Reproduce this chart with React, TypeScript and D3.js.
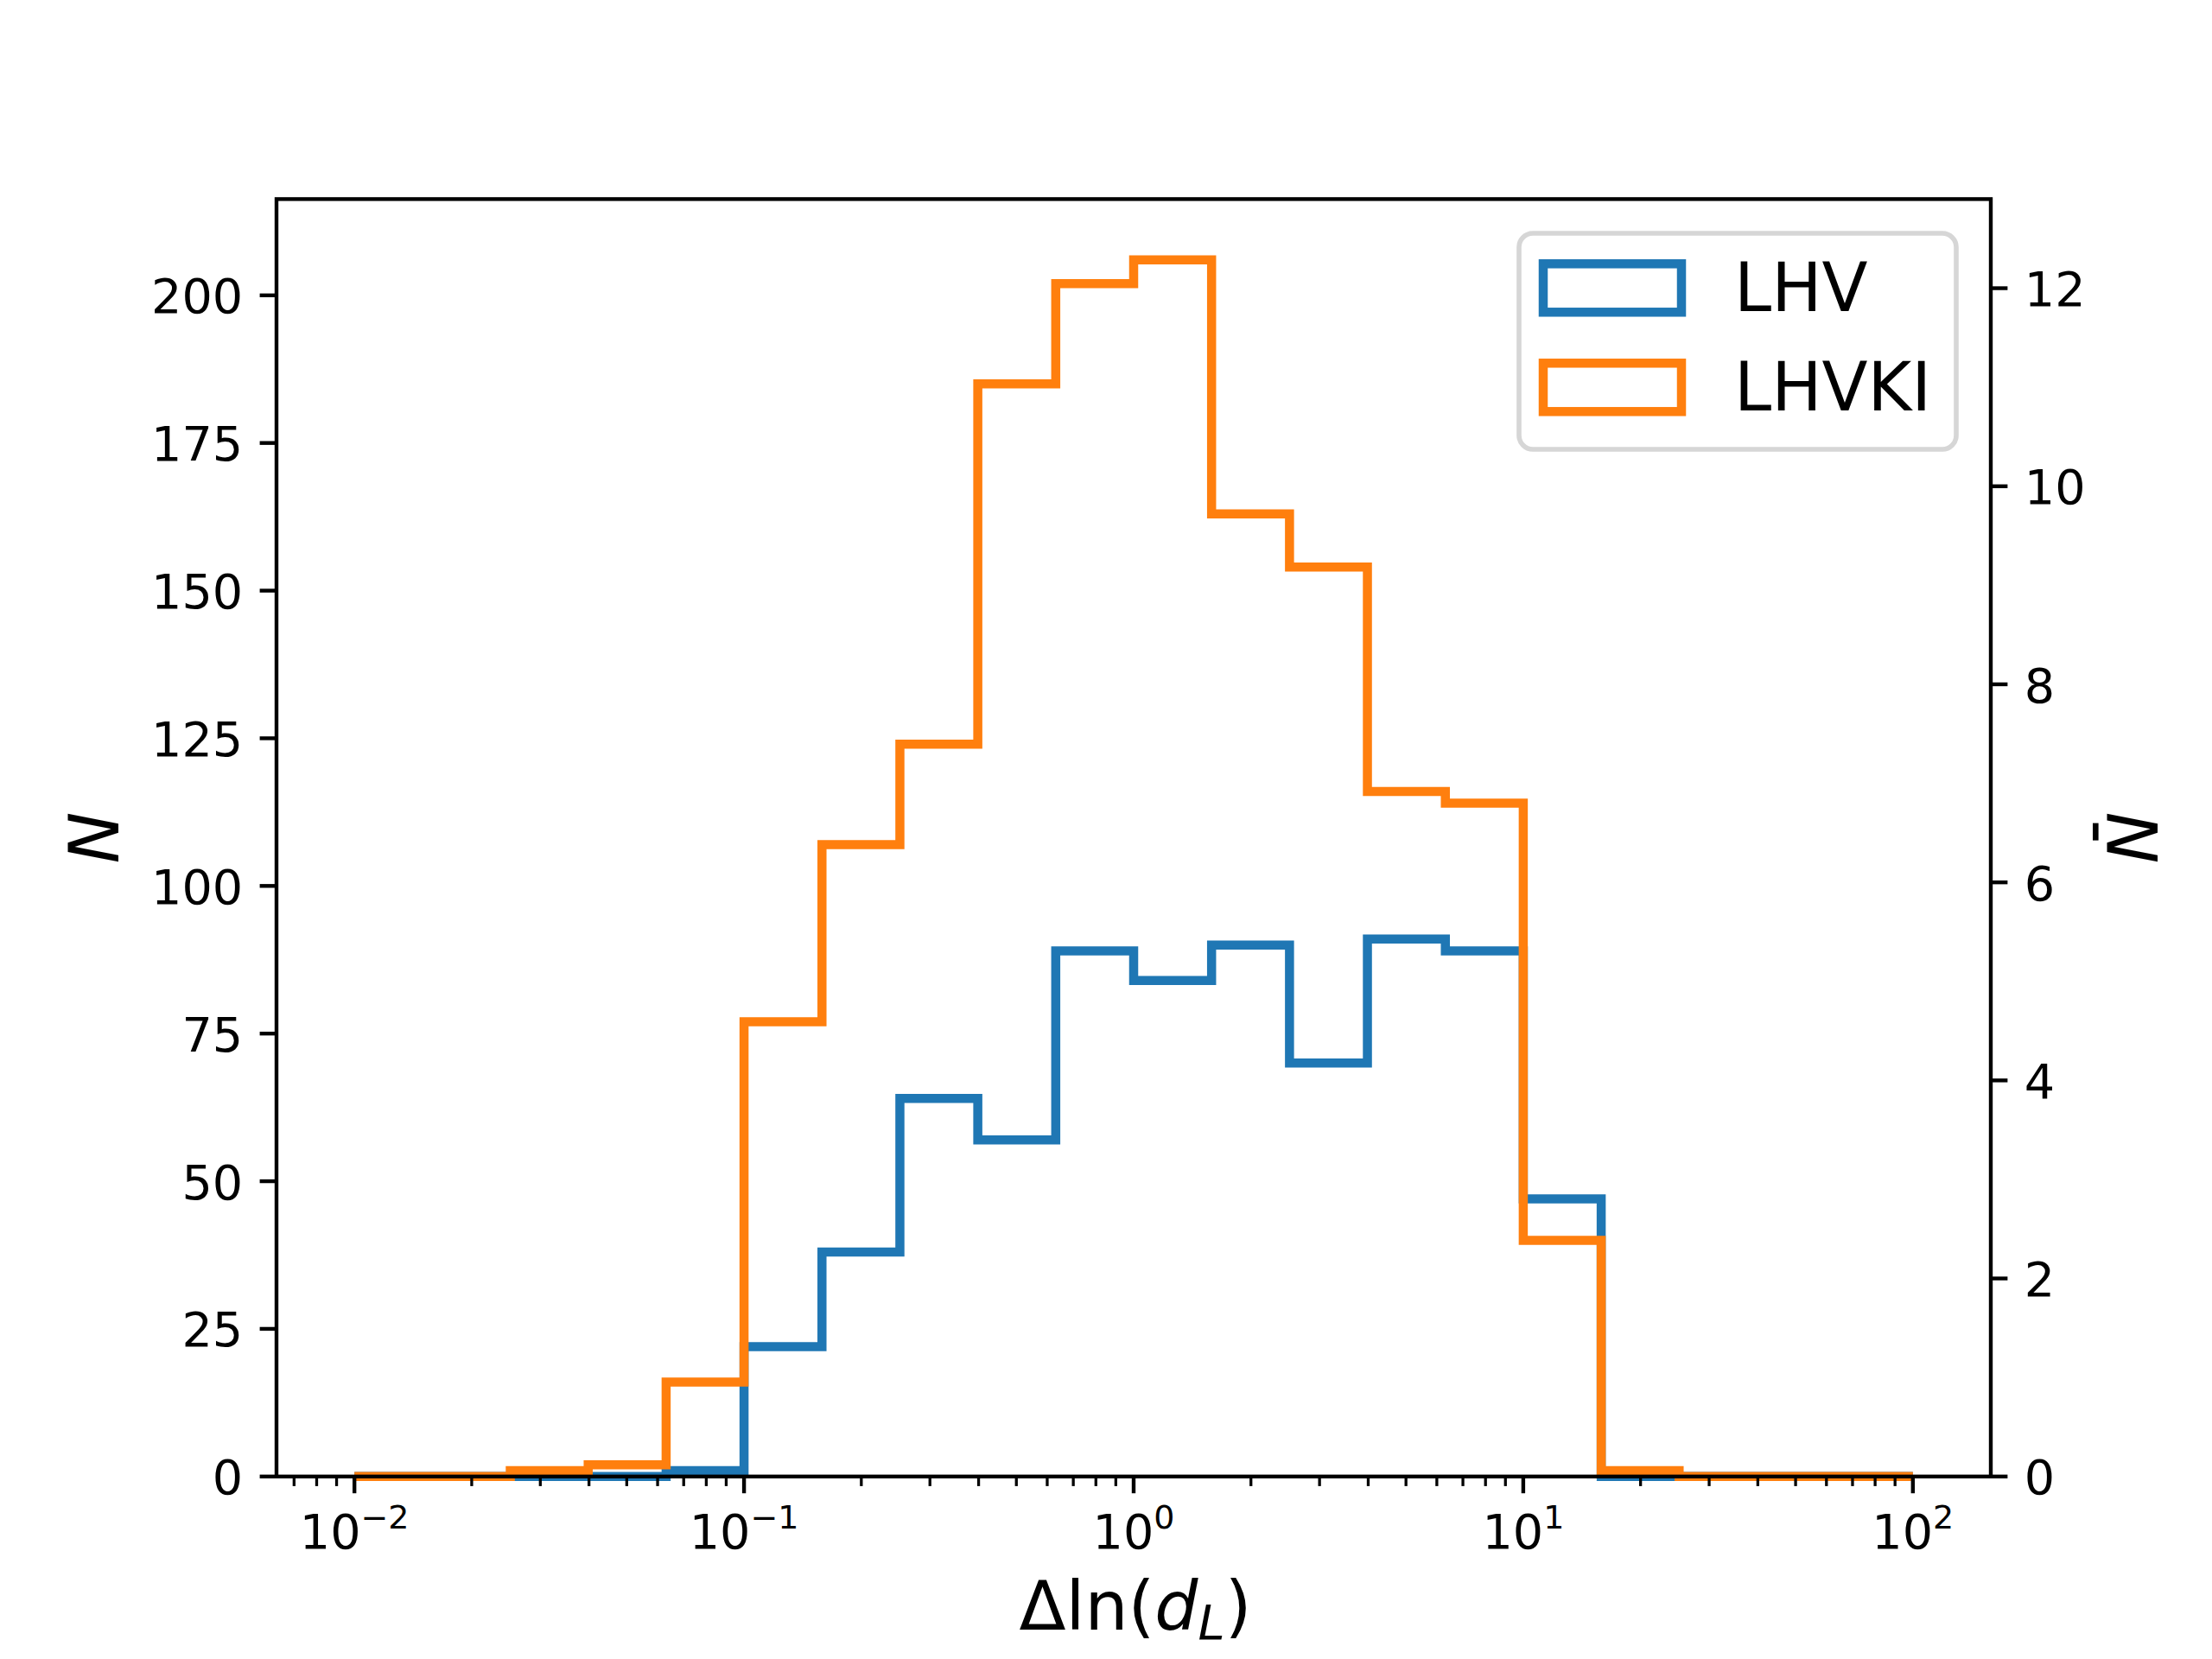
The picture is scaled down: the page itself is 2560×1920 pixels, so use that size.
import * as d3 from 'd3';
import { useEffect, useRef } from 'react';

// histogram bin edges (log spaced)
const binEdges = [0.01, 0.01585, 0.02512, 0.03981, 0.0631, 0.1, 0.1585, 0.2512, 0.3981, 0.631, 1,
    1.585, 2.512, 3.981, 6.31, 10, 15.85, 25.12, 39.81, 63.1, 100];
const lhvCounts = [0, 0, 0, 0, 1, 22, 38, 64, 57, 89, 84, 90, 70, 91, 89, 47, 0, 0, 0, 0];
const lhvkiCounts = [0, 0, 1, 2, 16, 77, 107, 124, 185, 202, 206, 163, 154, 116, 114, 40, 1, 0, 0, 0];
const seriesNames = ['LHV', 'LHVKI'];
const seriesColors = ['#1f77b4', '#ff7f0e'];
const xTickExponents = [-2, -1, 0, 1, 2];
const leftTicks = [0, 25, 50, 75, 100, 125, 150, 175, 200];
const rightTicks = [0, 2, 4, 6, 8, 10, 12];

const FONT = 'DejaVu Sans';

const App = () => {
    const ref = useRef<SVGSVGElement | null>(null);

    useEffect(() => {
        if (!ref.current) return;
        const svg = d3.select(ref.current);
        svg.selectAll('*').remove();

        const left = 320, right = 2304, top = 230.4, bottom = 1708.8;
        const tickLen = 19.4, minorLen = 11.1, pad = 19.4;

        const x = d3.scaleLog().domain([Math.pow(10, -2.2), Math.pow(10, 2.2)]).range([left, right]);
        const y = d3.scaleLinear().domain([0, 216.3]).range([bottom, top]);
        const y2 = d3.scaleLinear().domain([0, 12.9]).range([bottom, top]);

        svg.append('rect').attr('width', 2560).attr('height', 1920).attr('fill', '#fff');

        const stepPoints = (counts: number[]) => {
            const pts: [number, number][] = [[binEdges[0], 0]];
            counts.forEach((c, i) => {
                pts.push([binEdges[i], c]);
                pts.push([binEdges[i + 1], c]);
            });
            pts.push([binEdges[binEdges.length - 1], 0]);
            return pts;
        };
        const line = d3.line<[number, number]>().x(d => x(d[0])).y(d => y(d[1]));

        [lhvCounts, lhvkiCounts].forEach((counts, i) => {
            svg.append('path')
                .attr('d', line(stepPoints(counts)))
                .attr('fill', 'none')
                .attr('stroke', seriesColors[i])
                .attr('stroke-width', 10.5)
                .attr('stroke-linejoin', 'miter');
        });

        // frame
        svg.append('rect')
            .attr('x', left).attr('y', top)
            .attr('width', right - left).attr('height', bottom - top)
            .attr('fill', 'none').attr('stroke', '#000').attr('stroke-width', 4.4);

        // x ticks
        const minor = x.ticks().filter(v => {
            const l = Math.log10(v);
            return Math.abs(l - Math.round(l)) > 1e-6;
        });
        svg.append('g').selectAll('line').data(minor).enter().append('line')
            .attr('x1', d => x(d)).attr('x2', d => x(d))
            .attr('y1', bottom).attr('y2', bottom + minorLen)
            .attr('stroke', '#000').attr('stroke-width', 3.3);

        const xt = svg.append('g');
        xTickExponents.forEach(e => {
            const px = x(Math.pow(10, e));
            xt.append('line')
                .attr('x1', px).attr('x2', px)
                .attr('y1', bottom).attr('y2', bottom + tickLen)
                .attr('stroke', '#000').attr('stroke-width', 4.4);
            const t = xt.append('text')
                .attr('x', px).attr('y', 1792)
                .attr('text-anchor', 'middle')
                .attr('font-family', FONT).attr('font-size', 55.6);
            t.append('tspan').text('10');
            t.append('tspan').attr('font-size', 38).attr('dy', -23)
                .text(e < 0 ? '\u2212' + Math.abs(e) : String(e));
        });

        // left axis
        const yl = svg.append('g');
        leftTicks.forEach(v => {
            yl.append('line')
                .attr('x1', left - tickLen).attr('x2', left)
                .attr('y1', y(v)).attr('y2', y(v))
                .attr('stroke', '#000').attr('stroke-width', 4.4);
            yl.append('text')
                .attr('x', left - tickLen - pad).attr('y', y(v)).attr('dy', '0.37em')
                .attr('text-anchor', 'end')
                .attr('font-family', FONT).attr('font-size', 55.6)
                .text(v);
        });

        // right axis
        const yr = svg.append('g');
        rightTicks.forEach(v => {
            yr.append('line')
                .attr('x1', right).attr('x2', right + tickLen)
                .attr('y1', y2(v)).attr('y2', y2(v))
                .attr('stroke', '#000').attr('stroke-width', 4.4);
            yr.append('text')
                .attr('x', right + tickLen + pad).attr('y', y2(v)).attr('dy', '0.37em')
                .attr('text-anchor', 'start')
                .attr('font-family', FONT).attr('font-size', 55.6)
                .text(v);
        });

        // axis labels
        const midY = (top + bottom) / 2;
        const xl = svg.append('text')
            .attr('x', (left + right) / 2 + 2).attr('y', 1886)
            .attr('text-anchor', 'middle')
            .attr('font-family', FONT).attr('font-size', 79);
        xl.append('tspan').text('\u0394ln(');
        xl.append('tspan').attr('font-style', 'italic').text('d');
        xl.append('tspan').attr('font-style', 'italic').attr('font-size', 56).attr('dy', 11).text('L');
        xl.append('tspan').attr('dy', -11).text(')');

        svg.append('text')
            .attr('transform', `translate(137,${midY}) rotate(-90)`)
            .attr('text-anchor', 'middle')
            .attr('font-family', FONT).attr('font-size', 80).attr('font-style', 'italic')
            .text('N');

        const rl = svg.append('g').attr('transform', `translate(2497,${midY}) rotate(-90)`);
        rl.append('text')
            .attr('text-anchor', 'middle')
            .attr('font-family', FONT).attr('font-size', 80).attr('font-style', 'italic')
            .text('N');
        rl.append('rect').attr('x', -3).attr('y', -75).attr('width', 20).attr('height', 6.6).attr('fill', '#000');

        // legend
        const lg = svg.append('g');
        lg.append('rect')
            .attr('x', 1758).attr('y', 270).attr('width', 506).attr('height', 250)
            .attr('rx', 16).attr('ry', 16)
            .attr('fill', '#fff').attr('fill-opacity', 0.8)
            .attr('stroke', '#d6d6d6').attr('stroke-width', 5.6);
        seriesNames.forEach((name, i) => {
            const cy = 333.3 + i * 115;
            lg.append('rect')
                .attr('x', 1786).attr('y', cy - 28).attr('width', 160).attr('height', 56)
                .attr('fill', 'none').attr('stroke', seriesColors[i]).attr('stroke-width', 10.5);
            lg.append('text')
                .attr('x', 2007).attr('y', cy + 27)
                .attr('font-family', FONT).attr('font-size', 77.5)
                .text(name);
        });
    }, []);

    return (
        <div>
            <svg ref={ref} width={2560} height={1920}
                style={{ position: 'absolute', left: 0, top: 0, display: 'block' }} />
        </div>
    );
};

export default App;
